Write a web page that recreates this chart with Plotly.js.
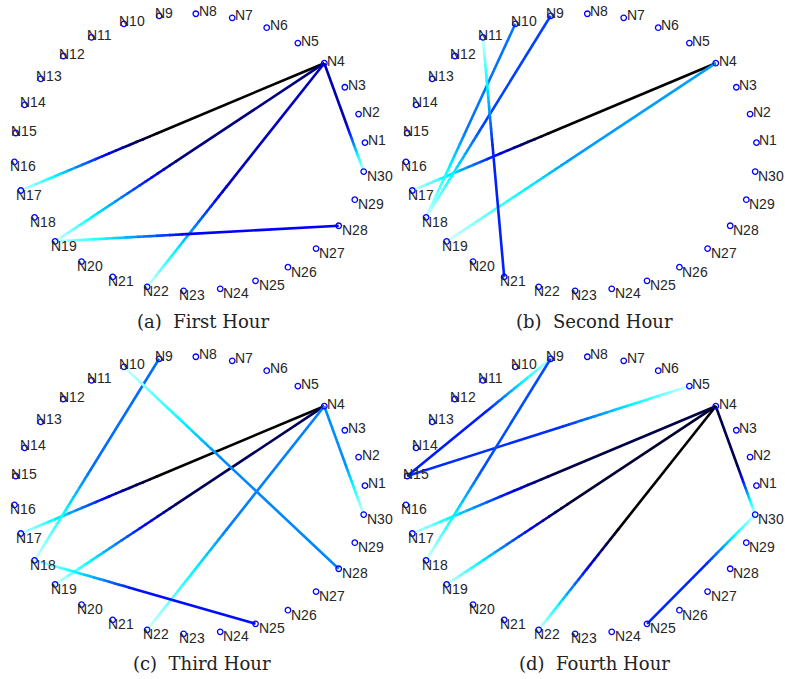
<!DOCTYPE html>
<html>
<head>
<meta charset="utf-8">
<script src="https://cdn.plot.ly/plotly-3.0.1.min.js"></script>
<style>html,body{margin:0;padding:0;background:#fff;}#chart{width:785px;height:679px;}</style>
</head>
<body>
<div id="chart"></div>
<script>
// ---------------- data ----------------
const nodeNames = ['N1','N2','N3','N4','N5','N6','N7','N8','N9','N10',
  'N11','N12','N13','N14','N15','N16','N17','N18','N19','N20',
  'N21','N22','N23','N24','N25','N26','N27','N28','N29','N30'];

const panelCaptions = ['(a)  First Hour', '(b)  Second Hour', '(c)  Third Hour', '(d)  Fourth Hour'];

// edges: dark end (from) -> light end (to); shade = colour value at the dark end
const hour1From  = [4, 4, 4, 4, 28];
const hour1To    = [17, 19, 22, 30, 19];
const hour1Shade = [0.00, 0.22, 0.30, 0.28, 0.38];

const hour2From  = [4, 4, 10, 9, 21];
const hour2To    = [17, 19, 18, 18, 11];
const hour2Shade = [0.00, 0.62, 0.56, 0.48, 0.43];

const hour3From  = [4, 4, 4, 4, 9, 28, 25];
const hour3To    = [17, 19, 22, 30, 18, 10, 18];
const hour3Shade = [0.00, 0.16, 0.58, 0.60, 0.55, 0.59, 0.40];

const hour4From  = [4, 4, 4, 4, 15, 15, 9, 25];
const hour4To    = [17, 19, 22, 30, 5, 9, 18, 30];
const hour4Shade = [0.13, 0.09, 0.00, 0.14, 0.45, 0.42, 0.50, 0.44];

// ---------------- style ----------------
const cmapStops  = [0, 0.20, 0.38, 0.58, 0.76, 1];
const cmapColors = [[0,0,0],[0,0,110],[0,0,255],[0,128,255],[0,255,255],[210,255,255]];
const RAMP_START = 0.55;
const NSEG = 20;
const W = 785, H = 679;
const XR = 1.07, YR = 1.08;
const HALF_W = 188.0, HALF_H = 149.7;
const centersX = [189.7, 581.2, 189.7, 581.2];
const centersY = [152.3, 152.3, 495.3, 495.3];
const captionX = [203, 594, 202, 594];
const captionY = [321, 321, 663, 663];
const ANGLE0 = 4, STEP = 360 / nodeNames.length;

function cmap(v) {
  v = Math.max(0, Math.min(1, v));
  for (let i = 1; i < cmapStops.length; i++) {
    if (v <= cmapStops[i]) {
      const f = (v - cmapStops[i-1]) / (cmapStops[i] - cmapStops[i-1]);
      const a = cmapColors[i-1], b = cmapColors[i];
      return 'rgb(' + a.map((c, k) => Math.round(c + (b[k] - c) * f)).join(',') + ')';
    }
  }
  const c = cmapColors[cmapColors.length - 1];
  return 'rgb(' + c.join(',') + ')';
}

const nodeAngle = nodeNames.map((_, i) => (ANGLE0 + STEP * i) * Math.PI / 180);
const nodeX = nodeAngle.map(a => Math.cos(a));
const nodeY = nodeAngle.map(a => Math.sin(a));

const hours = [
  {from: hour1From, to: hour1To, shade: hour1Shade},
  {from: hour2From, to: hour2To, shade: hour2Shade},
  {from: hour3From, to: hour3To, shade: hour3Shade},
  {from: hour4From, to: hour4To, shade: hour4Shade}
];

const traces = [];
const annotations = [];
const layout = {
  width: W, height: H,
  margin: {l: 0, r: 0, t: 0, b: 0},
  paper_bgcolor: '#fff', plot_bgcolor: '#fff',
  showlegend: false, hovermode: false,
  annotations: annotations
};

hours.forEach((h, p) => {
  const sfx = p === 0 ? '' : String(p + 1);
  const xa = 'x' + sfx, ya = 'y' + sfx;
  layout['xaxis' + sfx] = {
    domain: [(centersX[p] - HALF_W) / W, (centersX[p] + HALF_W) / W],
    range: [-XR, XR], visible: false, fixedrange: true, anchor: ya
  };
  layout['yaxis' + sfx] = {
    domain: [1 - (centersY[p] + HALF_H) / H, 1 - (centersY[p] - HALF_H) / H],
    range: [-YR, YR], visible: false, fixedrange: true, anchor: xa
  };
  // edges with colour gradient
  h.from.forEach((f, e) => {
    const a = f - 1, b = h.to[e] - 1, v0 = h.shade[e];
    const x0 = nodeX[a], y0 = nodeY[a], x1 = nodeX[b], y1 = nodeY[b];
    const ts = [0, RAMP_START];
    for (let s = 1; s <= NSEG; s++) ts.push(RAMP_START + (1 - RAMP_START) * s / NSEG);
    for (let s = 0; s < ts.length - 1; s++) {
      const tA = ts[s], tB = Math.min(1, ts[s+1] + 0.004);
      const tm = (ts[s] + ts[s+1]) / 2;
      const u = tm < RAMP_START ? 0 : (tm - RAMP_START) / (1 - RAMP_START);
      const v = s === 0 ? v0 : v0 + (1 - v0) * u;
      traces.push({
        type: 'scatter', mode: 'lines', xaxis: xa, yaxis: ya,
        x: [x0 + (x1 - x0) * tA, x0 + (x1 - x0) * tB],
        y: [y0 + (y1 - y0) * tA, y0 + (y1 - y0) * tB],
        line: {color: cmap(v), width: 2.6},
        hoverinfo: 'skip', cliponaxis: false
      });
    }
  });
  // nodes
  traces.push({
    type: 'scatter', mode: 'markers', xaxis: xa, yaxis: ya,
    x: nodeX, y: nodeY, text: nodeNames, cliponaxis: false,
    marker: {symbol: 'circle-open', size: 5.5, color: 'rgb(0,0,255)', line: {width: 1.3, color: 'rgb(0,0,255)'}},
    hoverinfo: 'skip'
  });
  nodeNames.forEach((n, i) => {
    const right = Math.cos(nodeAngle[i]) >= 0;
    const upper = Math.sin(nodeAngle[i]) > 0;
    annotations.push({
      xref: xa, yref: ya, x: nodeX[i], y: nodeY[i], text: n,
      showarrow: false, xanchor: 'left', yanchor: 'middle',
      xshift: right ? 3 : -4.5, yshift: upper ? 2.5 : -4.5,
      borderpad: 0, borderwidth: 0,
      font: {family: 'Liberation Sans, Arial, sans-serif', size: 14, color: '#262626'}
    });
  });
  annotations.push({
    xref: 'paper', yref: 'paper', x: captionX[p] / W, y: 1 - captionY[p] / H,
    text: panelCaptions[p], showarrow: false, xanchor: 'center', yanchor: 'middle',
    font: {family: 'DejaVu Serif, serif', size: 18, color: '#222'}
  });
});

Plotly.newPlot('chart', traces, layout, {staticPlot: true, displayModeBar: false});
</script>
</body>
</html>
